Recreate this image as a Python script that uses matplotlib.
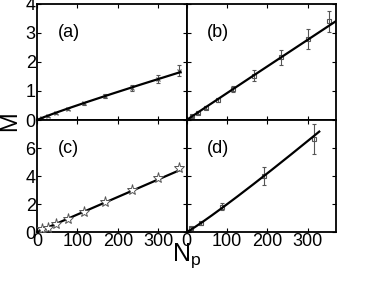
import numpy as np
import matplotlib
matplotlib.use("Agg")
import matplotlib.pyplot as plt

plt.rcParams['font.family'] = ['Liberation Sans', 'DejaVu Sans']

# centrality bins (participants) and measured M for each panel
npart = [13, 27, 47, 77, 115, 167, 234, 299, 351]

m_a = [0.08, 0.15, 0.25, 0.38, 0.58, 0.82, 1.11, 1.42, 1.70]
err_a = [0.03, 0.04, 0.04, 0.05, 0.05, 0.06, 0.10, 0.14, 0.20]

m_b = [0.13, 0.25, 0.42, 0.69, 1.06, 1.52, 2.16, 2.80, 3.40]
err_b = [0.04, 0.05, 0.05, 0.06, 0.10, 0.19, 0.26, 0.34, 0.37]

m_c = [0.19, 0.31, 0.55, 0.91, 1.45, 2.12, 3.00, 3.84, 4.55]

npart_d = [10, 35, 88, 191, 315]
m_d = [0.26, 0.62, 1.81, 4.02, 6.64]
err_d = [0.08, 0.12, 0.24, 0.65, 1.10]

# range over which the fitted curve is drawn
fit_range = {'a': (5, 355), 'b': (3, 370), 'c': (5, 355), 'd': (1, 328)}
# curve for (d): M = a * N^b
fit_d = (0.01376, 1.08)

fig = plt.figure(figsize=(3.74, 2.81), dpi=100)
gs = fig.add_gridspec(2, 2, height_ratios=[116, 112], wspace=0, hspace=0,
                      left=0.099, right=0.899, top=0.986, bottom=0.174)
axa = fig.add_subplot(gs[0, 0])
axb = fig.add_subplot(gs[0, 1])
axc = fig.add_subplot(gs[1, 0])
axd = fig.add_subplot(gs[1, 1])


def fit_line(ax, x, y, key, params=None):
    # power law M = a * N^b, fitted unless given
    if params is None:
        b, la = np.polyfit(np.log(x), np.log(y), 1)
        a = np.exp(la)
    else:
        a, b = params
    xs = np.linspace(fit_range[key][0], fit_range[key][1], 200)
    ax.plot(xs, a * xs ** b, color='black', lw=1.6, zorder=3)


gray = '#555555'
axa.errorbar(npart, m_a, yerr=err_a, fmt='x', ms=3.5, mew=0.8, color=gray,
             ecolor=gray, elinewidth=0.8, capsize=1.5, zorder=2)
fit_line(axa, npart, m_a, 'a')

axb.errorbar(npart, m_b, yerr=err_b, fmt='s', ms=3.5, mfc='none', mew=0.8,
             color=gray, ecolor=gray, elinewidth=0.8, capsize=1.5, zorder=2)
fit_line(axb, npart, m_b, 'b')

axc.plot(npart, m_c, '*', ms=8, mfc='white', mec=gray, mew=0.7, zorder=4)
fit_line(axc, npart, m_c, 'c')

axd.errorbar(npart_d, m_d, yerr=err_d, fmt='s', ms=3.5, mfc='none', mew=0.8,
             color=gray, ecolor=gray, elinewidth=0.8, capsize=1.5, zorder=2)
fit_line(axd, npart_d, m_d, 'd', fit_d)

for ax, lab in zip([axa, axb, axc, axd], ['(a)', '(b)', '(c)', '(d)']):
    ax.set_xlim(0, 370)
    ax.set_xticks([0, 100, 200, 300])
    ax.tick_params(direction='in', top=True, right=True, length=3,
                   width=0.8, labelsize=13, pad=1)
    for s in ax.spines.values():
        s.set_linewidth(1.3)
    ax.text(0.21, 0.75, lab, transform=ax.transAxes, fontsize=13,
            ha='center', va='center')

axa.set_ylim(0, 4)
axb.set_ylim(0, 4)
axa.set_yticks([0, 1, 2, 3, 4])
axb.set_yticks([0, 1, 2, 3, 4])
axc.set_ylim(0, 8)
axd.set_ylim(0, 8)
axc.set_yticks([0, 2, 4, 6, 8])
axc.set_yticklabels(['0', '2', '4', '6', ''])
axd.set_yticks([0, 2, 4, 6, 8])

axa.tick_params(labelbottom=False)
axb.tick_params(labelbottom=False, labelleft=False)
axd.tick_params(labelleft=False)

fig.text(0.027, 0.57, 'M', rotation=90, fontsize=17, ha='center', va='center')
fig.text(0.5, 0.09, r'$\mathregular{N_p}$', fontsize=18, ha='center', va='center')

fig.savefig('out.png', dpi=100)
